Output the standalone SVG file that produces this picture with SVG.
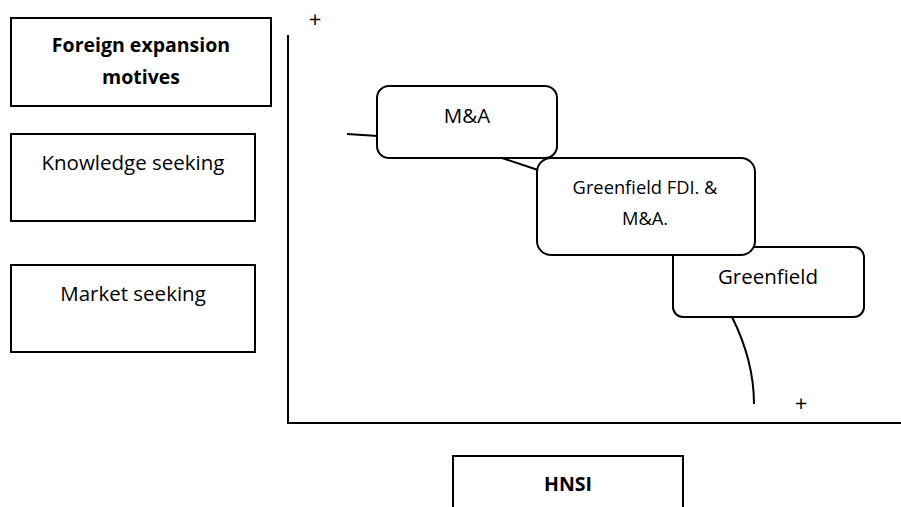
<svg xmlns="http://www.w3.org/2000/svg" width="901" height="507" viewBox="0 0 901 507">
<style>
.box{fill:#fff;stroke:#000;stroke-width:2}
.rbox{fill:#fff;stroke:#000;stroke-width:2}
.ln{fill:none;stroke:#000;stroke-width:2}
text{font-family:"Open Sans","Liberation Sans",sans-serif;fill:#000;text-anchor:middle}
.b{font-weight:bold;font-size:19.5px}
.n{font-size:20.5px}
.s{font-size:18.3px}
.p{font-size:22px}
</style>
<rect width="901" height="507" fill="#fff"/>
<g id="axes">
<line class="ln" x1="288" y1="35" x2="288" y2="424"/>
<line class="ln" x1="287" y1="423" x2="901" y2="423"/>
<text x="315" y="27" class="p">+</text>
<text x="801" y="411" class="p">+</text>
</g>
<g id="motives"><rect class="box" x="11" y="18" width="260" height="88"/>
<text class="b" x="141" y="52">Foreign expansion</text><text class="b" x="141" y="84">motives</text></g>
<g id="knowledge"><rect class="box" x="11" y="134" width="244" height="87"/>
<text class="n" x="133" y="170">Knowledge seeking</text></g>
<g id="market"><rect class="box" x="11" y="265" width="244" height="87"/>
<text class="n" x="133" y="301">Market seeking</text></g>
<g id="connectors">
<line class="ln" x1="347" y1="134" x2="378" y2="136"/>
<line class="ln" x1="502" y1="158" x2="538" y2="170"/>
<path class="ln" d="M732,317 C746,345 754,375 754,404"/>
</g>
<g id="ma"><rect class="rbox" x="377" y="86" width="180" height="72" rx="12"/>
<text class="n" x="467" y="123">M&amp;A</text></g>
<g id="greenfield"><rect class="rbox" x="673" y="247" width="191" height="70" rx="10"/>
<text class="n" x="768" y="284">Greenfield</text></g>
<g id="fdi"><rect class="rbox" x="537" y="158" width="218" height="97" rx="14"/>
<text class="s" x="645" y="194">Greenfield FDI. &amp;</text><text class="s" x="645" y="225">M&amp;A.</text></g>
<g id="hnsi"><rect class="box" x="453" y="456" width="230" height="60"/>
<text class="b" x="568" y="491">HNSI</text></g>
</svg>
